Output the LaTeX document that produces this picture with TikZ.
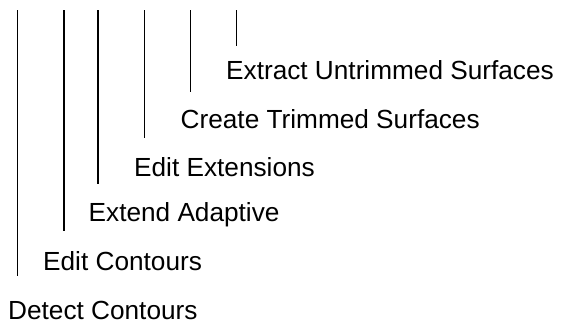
\documentclass[tikz,border=0pt]{standalone}
\usepackage{fontspec}
\setmainfont{Liberation Sans}
\begin{document}
\begin{tikzpicture}[x=1pt,y=-1pt,
  lbl/.style={anchor=base west,inner sep=0pt,font=\fontsize{26.2}{31}\selectfont},
  bar/.style={line width=1.1pt}]
\useasboundingbox (0,0) rectangle (561,325);
\node[lbl] (t1) at (8,319.5) {Detect Contours};
\node[lbl] (t2) at (43,270) {Edit Contours};
\node[lbl] (t3) at (88.5,221.5) {Extend Adaptive};
\node[lbl] (t4) at (134,176.5) {Edit Extensions};
\node[lbl] (t5) at (180.5,128) {Create Trimmed Surfaces};
\node[lbl] (t6) at (226,79) {Extract Untrimmed Surfaces};
\coordinate (a1) at (17.5,10); \coordinate (b1) at (17.5,276);
\coordinate (a2) at (64,10); \coordinate (b2) at (64,231);
\coordinate (a3) at (98,10); \coordinate (b3) at (98,184);
\coordinate (a4) at (144.5,10); \coordinate (b4) at (144.5,138);
\coordinate (a5) at (190.5,10); \coordinate (b5) at (190.5,92);
\coordinate (a6) at (236.5,10); \coordinate (b6) at (236.5,46);
\foreach \i in {1,...,6} \draw[bar] (a\i) -- (b\i);
\end{tikzpicture}
\end{document}
